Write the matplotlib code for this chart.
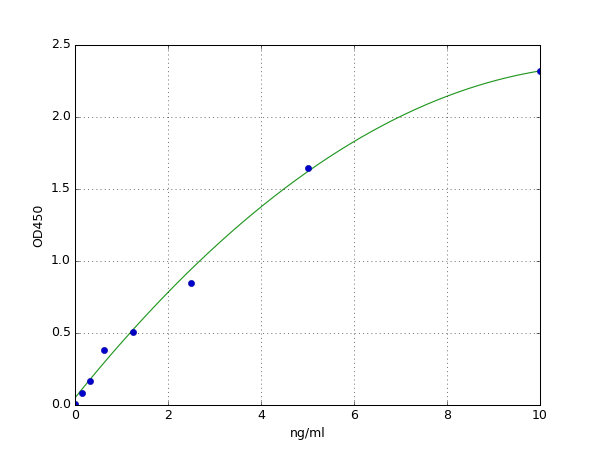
import numpy as np
import matplotlib
matplotlib.use("Agg")
import matplotlib.pyplot as plt

plt.style.use("classic")

conc = [0, 0.156, 0.3125, 0.625, 1.25, 2.5, 5, 10]
od = [0.01, 0.08, 0.17, 0.385, 0.505, 0.847, 1.646, 2.32]

# fitted curve coefficients (highest power first)
fit_coef = [-0.0174, 0.401, 0.05]

fig = plt.figure(figsize=(8, 6), dpi=75)
ax = fig.add_subplot(111)

xs = np.linspace(0, 10, 300)
ys = np.polyval(fit_coef, xs)
ax.plot(xs, ys, "-", color="#1f961f", lw=1.1)
ax.plot(conc, od, "o", color="#0000cc", markeredgecolor="#000099")

ax.set_xlim(0, 10)
ax.set_ylim(0, 2.5)
ax.set_xlabel("ng/ml")
ax.set_ylabel("OD450")
ax.grid(True)

fig.savefig("out.png", dpi=75)
